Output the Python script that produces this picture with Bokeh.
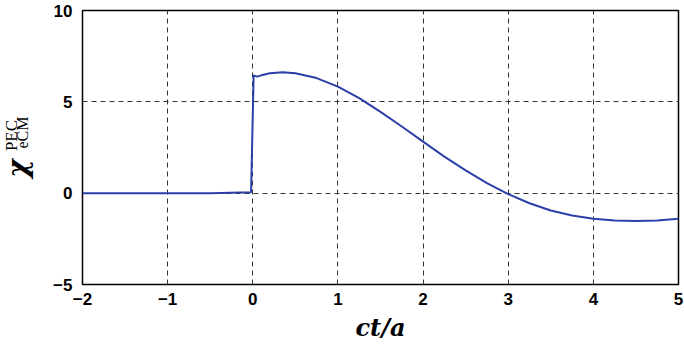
import math
from bokeh.plotting import figure
from bokeh.models import Range1d, FixedTicker
from bokeh.layouts import row
from bokeh.core.properties import value
from bokeh.embed import file_html
from bokeh.resources import INLINE

# data
ct_a = [-2.0, -1.0, -0.5, -0.02, 0.01, 0.05, 0.1, 0.2, 0.35, 0.5, 0.75, 1.0, 1.25,
        1.5, 1.75, 2.0, 2.25, 2.5, 2.75, 3.0, 3.25, 3.5, 3.75, 4.0, 4.25, 4.5,
        4.75, 5.0]
chi = [0.0, 0.0, 0.0, 0.05, 6.45, 6.38, 6.45, 6.56, 6.62, 6.56, 6.3, 5.83, 5.2,
       4.45, 3.65, 2.82, 2.0, 1.25, 0.55, -0.05, -0.55, -0.95, -1.22, -1.4, -1.5,
       -1.53, -1.49, -1.4]

x_ticks = [-2, -1, 0, 1, 2, 3, 4, 5]
y_ticks = [-5, 0, 5, 10]
x_tick_labels = {-2: "\u22122", -1: "\u22121", 0: "0", 1: "1", 2: "2", 3: "3", 4: "4", 5: "5"}
y_tick_labels = {-5: "\u22125", 0: "0", 5: "5", 10: "10"}

W = 684
H = 353
LW = 44            # width of the y-label strip
FTOP, FBOT = 10, 284   # frame top / bottom (pixels from top)

# ---- strip holding the rotated y-axis label chi^PEC_eCM ----
# the row aligns this strip's frame with the chart frame, so its y range
# is expressed directly in pixels from the top of the page
lab = figure(title=None, width=LW, height=H, output_backend="svg",
             toolbar_location=None, x_range=Range1d(0, LW),
             y_range=Range1d(FBOT, FTOP),
             x_axis_type=None, y_axis_type=None, min_border=0,
             min_border_left=0, min_border_right=0, min_border_top=FTOP,
             min_border_bottom=H - FBOT)
lab.outline_line_color = None
lab.grid.visible = False
lab.text(x=[17], y=[168], text=["\u03c7"], angle=math.pi / 2,
         text_font=value("DejaVu Serif"), text_font_style="bold italic",
         text_font_size="28px", text_align="center", text_baseline="middle",
         text_color="black")
lab.text(x=[11], y=[135], text=["PEC"], angle=math.pi / 2,
         text_font=value("Liberation Serif"), text_font_size="17px",
         text_align="center", text_baseline="middle", text_color="black")
lab.text(x=[22], y=[132], text=["eCM"], angle=math.pi / 2,
         text_font=value("Liberation Serif"), text_font_size="16px",
         text_align="center", text_baseline="middle", text_color="black")

# ---- main chart ----
p = figure(title=None, width=W - LW, height=H, output_backend="svg",
           toolbar_location=None,
           x_range=Range1d(-2, 5), y_range=Range1d(-5, 10),
           min_border_left=82 - LW, min_border_right=6, min_border_top=FTOP,
           min_border_bottom=H - FBOT)
p.background_fill_color = "white"
p.border_fill_color = "white"
p.outline_line_color = "black"
p.outline_line_width = 1.5

p.line(ct_a, chi, line_color="#2b3fa8", line_width=2)

for ax, ticks, labels in ((p.xaxis[0], x_ticks, x_tick_labels), (p.yaxis[0], y_ticks, y_tick_labels)):
    ax.ticker = FixedTicker(ticks=ticks)
    ax.major_label_overrides = labels
    ax.axis_line_color = None
    ax.major_tick_line_color = None
    ax.minor_tick_line_color = None
    ax.major_tick_out = 0
    ax.major_tick_in = 0
    ax.minor_tick_out = 0
    ax.major_label_text_font = "Liberation Sans"
    ax.major_label_text_font_style = "bold"
    ax.major_label_text_font_size = "17px"
    ax.major_label_text_color = "black"

p.xaxis.major_label_standoff = 8
p.yaxis.major_label_standoff = 10
p.xaxis.axis_label = "ct/a"
p.xaxis.axis_label_text_font = "DejaVu Serif"
p.xaxis.axis_label_text_font_style = "bold italic"
p.xaxis.axis_label_text_font_size = "24px"
p.xaxis.axis_label_text_color = "black"
p.xaxis.axis_label_standoff = 5

for g in (p.xgrid[0], p.ygrid[0]):
    g.grid_line_color = "#333333"
    g.grid_line_dash = "5 4"
    g.grid_line_width = 1

layout = row(lab, p, spacing=0)
open("out.html", "w").write(file_html(layout, INLINE))
